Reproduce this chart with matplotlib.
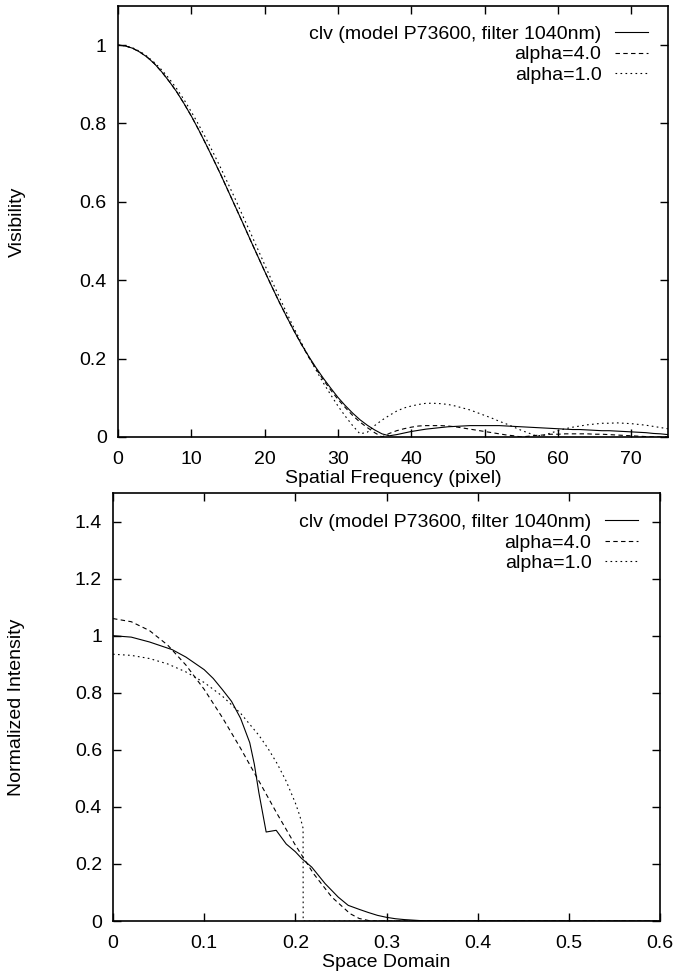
import matplotlib
matplotlib.use("Agg")
import matplotlib.pyplot as plt
from matplotlib.ticker import FuncFormatter

plt.rcParams['font.family'] = ['Liberation Sans', 'DejaVu Sans']
plt.rcParams['font.size'] = 14

# spatial frequency (pixel), one sample per pixel 0..75
freq = list(range(0, 76))

vis_clv = [1.000, 0.998, 0.992, 0.982, 0.969, 0.952, 0.931, 0.907, 0.881, 0.851,
           0.819, 0.784, 0.747, 0.709, 0.670, 0.629, 0.588, 0.547, 0.505, 0.464,
           0.423, 0.383, 0.344, 0.307, 0.271, 0.237, 0.206, 0.177, 0.150, 0.125,
           0.101, 0.080, 0.061, 0.044, 0.030, 0.018, 0.008, 0.003, 0.006, 0.010,
           0.014, 0.017, 0.020, 0.022, 0.024, 0.026, 0.027, 0.028, 0.029, 0.029,
           0.029, 0.029, 0.029, 0.028, 0.027, 0.026, 0.025, 0.024, 0.023, 0.022,
           0.021, 0.020, 0.019, 0.019, 0.018, 0.017, 0.016, 0.016, 0.015, 0.014,
           0.013, 0.012, 0.011, 0.009, 0.008, 0.006]

vis_a4 = [1.000, 0.998, 0.992, 0.982, 0.969, 0.952, 0.931, 0.907, 0.881, 0.851,
          0.819, 0.784, 0.747, 0.709, 0.670, 0.629, 0.588, 0.547, 0.505, 0.464,
          0.423, 0.383, 0.344, 0.307, 0.271, 0.237, 0.204, 0.174, 0.146, 0.120,
          0.096, 0.075, 0.055, 0.038, 0.024, 0.011, 0.000, 0.009, 0.016, 0.021,
          0.025, 0.028, 0.029, 0.029, 0.029, 0.028, 0.026, 0.023, 0.020, 0.017,
          0.014, 0.011, 0.008, 0.005, 0.003, 0.000, 0.002, 0.004, 0.005, 0.007,
          0.007, 0.008, 0.008, 0.008, 0.008, 0.007, 0.007, 0.006, 0.005, 0.004,
          0.003, 0.002, 0.001, 0.000, 0.000, 0.001]

vis_a1 = [1.000, 0.998, 0.993, 0.984, 0.971, 0.955, 0.936, 0.914, 0.889, 0.861,
          0.830, 0.797, 0.762, 0.725, 0.687, 0.647, 0.607, 0.565, 0.524, 0.482,
          0.440, 0.398, 0.357, 0.317, 0.278, 0.241, 0.205, 0.171, 0.138, 0.108,
          0.079, 0.053, 0.029, 0.008, 0.012, 0.029, 0.043, 0.055, 0.066, 0.074,
          0.079, 0.083, 0.086, 0.086, 0.085, 0.083, 0.079, 0.074, 0.069, 0.062,
          0.055, 0.048, 0.040, 0.033, 0.025, 0.017, 0.010, 0.003, 0.004, 0.010,
          0.016, 0.021, 0.025, 0.028, 0.031, 0.033, 0.035, 0.035, 0.036, 0.035,
          0.034, 0.032, 0.030, 0.027, 0.024, 0.021]

# space domain intensity profiles
r_clv = [0.0, 0.02, 0.04, 0.065, 0.08, 0.10, 0.11, 0.12, 0.13, 0.14, 0.15, 0.155,
         0.16, 0.168, 0.179, 0.19, 0.20, 0.207, 0.218, 0.2327, 0.247, 0.258,
         0.27, 0.28, 0.29, 0.30, 0.31, 0.32, 0.34, 0.6]
i_clv = [1.000, 0.995, 0.978, 0.951, 0.925, 0.881, 0.850, 0.811, 0.770, 0.710,
         0.625, 0.550, 0.450, 0.312, 0.318, 0.270, 0.243, 0.219, 0.189, 0.131,
         0.084, 0.055, 0.041, 0.030, 0.020, 0.013, 0.008, 0.005, 0.001, 0.0]

r_a4 = [0.0, 0.02, 0.04, 0.06, 0.08, 0.10, 0.12, 0.14, 0.16, 0.18, 0.20, 0.22,
        0.24, 0.26, 0.27, 0.283, 0.6]
i_a4 = [1.060, 1.049, 1.018, 0.967, 0.897, 0.812, 0.713, 0.605, 0.491, 0.376,
        0.266, 0.166, 0.084, 0.026, 0.009, 0.0, 0.0]

r_a1 = [0.0, 0.02, 0.04, 0.06, 0.08, 0.10, 0.12, 0.14, 0.16, 0.17, 0.18, 0.19,
        0.20, 0.205, 0.2085, 0.2086, 0.6]
i_a1 = [0.935, 0.931, 0.920, 0.901, 0.873, 0.836, 0.788, 0.728, 0.651, 0.605,
        0.552, 0.490, 0.414, 0.368, 0.325, 0.0, 0.0]

labels = ["clv (model P73600, filter 1040nm)", "alpha=4.0", "alpha=1.0"]

dash = (0, (4, 3))
dot = (0, (1.5, 3))
lw = 0.8
gfmt = FuncFormatter(lambda v, p: "%g" % round(v, 3))

fig = plt.figure(figsize=(6.73, 9.73), dpi=100)
ax1 = fig.add_axes([0.1753, 0.5509, 0.8172, 0.4430])
ax2 = fig.add_axes([0.1679, 0.0534, 0.8128, 0.4399])

ax1.plot(freq, vis_clv, color="black", lw=lw, ls="-", label=labels[0])
ax1.plot(freq, vis_a4, color="black", lw=lw, ls=dash, label=labels[1])
ax1.plot(freq, vis_a1, color="black", lw=lw, ls=dot, label=labels[2])
ax1.set_xlim(0, 75)
ax1.set_ylim(0, 1.1)
ax1.set_xticks(range(0, 71, 10))
ax1.set_yticks([0, 0.2, 0.4, 0.6, 0.8, 1.0])
ax1.set_xlabel("Spatial Frequency (pixel)")
ax1.set_ylabel("Visibility")
ax1.xaxis.set_label_coords(0.5, -0.076)
ax1.yaxis.set_label_coords(-0.168, 0.5)

ax2.plot(r_clv, i_clv, color="black", lw=lw, ls="-", label=labels[0])
ax2.plot(r_a4, i_a4, color="black", lw=lw, ls=dash, label=labels[1])
ax2.plot(r_a1, i_a1, color="black", lw=lw, ls=dot, label=labels[2])
ax2.set_xlim(0, 0.6)
ax2.set_ylim(0, 1.5)
ax2.set_xticks([0, 0.1, 0.2, 0.3, 0.4, 0.5, 0.6])
ax2.set_yticks([0, 0.2, 0.4, 0.6, 0.8, 1.0, 1.2, 1.4])
ax2.set_xlabel("Space Domain")
ax2.set_ylabel("Normalized Intensity")
ax2.xaxis.set_label_coords(0.5, -0.078)
ax2.yaxis.set_label_coords(-0.160, 0.5)

for ax, anchor in ((ax1, (0.964, 0.955)), (ax2, (0.960, 0.952))):
    ax.xaxis.set_major_formatter(gfmt)
    ax.yaxis.set_major_formatter(gfmt)
    ax.tick_params(direction="in", length=6, width=1, top=True, right=True,
                   labelsize=14)
    ax.tick_params(axis="x", pad=10)
    ax.tick_params(axis="y", pad=8)
    for s in ax.spines.values():
        s.set_linewidth(1.2)
    ax.legend(loc="upper right", bbox_to_anchor=anchor, frameon=False,
              markerfirst=False, handlelength=1.7, handletextpad=0.7,
              labelspacing=0.15, borderpad=0, borderaxespad=0, fontsize=14)

fig.savefig("out.png", dpi=100)
